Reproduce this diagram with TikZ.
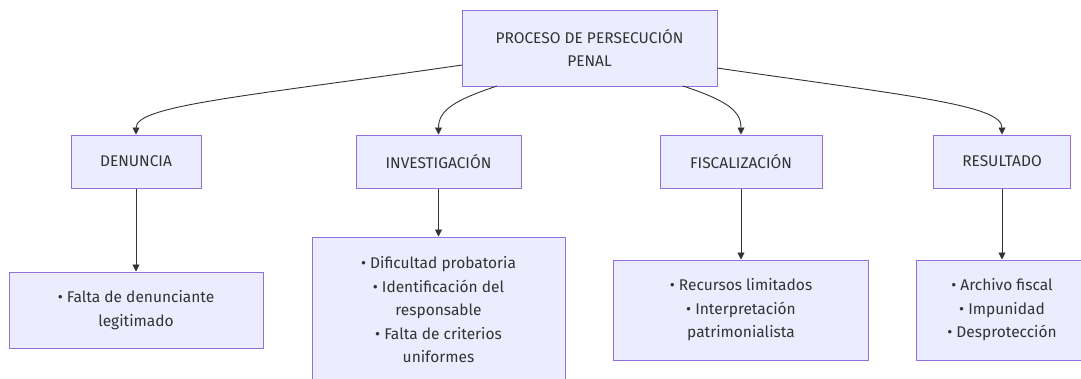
\documentclass[tikz,border=0pt]{standalone}
\usepackage{fontspec}
\setmainfont{Fira Sans}
\usetikzlibrary{arrows.meta}
\definecolor{boxfill}{HTML}{ECECFF}
\definecolor{boxline}{HTML}{9370DB}
\definecolor{ink}{HTML}{333333}
\tikzset{
  box/.style={draw=boxline, fill=boxfill, line width=1pt, text=ink, align=center,
    inner sep=0pt, font=\fontsize{15.5}{23.5}\selectfont},
  edge/.style={draw=ink, line width=0.9pt, -{Triangle[length=7pt,width=7pt]}},
}
\begin{document}
\begin{tikzpicture}[x=1pt,y=-1pt]
\useasboundingbox[fill=white] (0,0) rectangle (1081,378);
\clip (0,0) rectangle (1081,378);
\node[box, minimum width=255pt, minimum height=76pt] (top) at (589.5,48) {PROCESO DE PERSECUCIÓN\\PENAL};
\node[box, minimum width=130pt, minimum height=53pt] (den) at (136,161.5) {DENUNCIA};
\node[box, minimum width=165pt, minimum height=53pt] (inv) at (438.5,161.5) {INVESTIGACIÓN};
\node[box, minimum width=162pt, minimum height=53pt] (fis) at (741,161.5) {FISCALIZACIÓN};
\node[box, minimum width=137pt, minimum height=53pt] (res) at (1002,161.5) {RESULTADO};
\node[box, minimum width=254pt, minimum height=76pt] (d1) at (136,310) {• Falta de denunciante\\legitimado};
\node[box, minimum width=253pt, minimum height=146pt] (i1) at (438.5,310) {• Dificultad probatoria\\• Identificación del\\responsable\\• Falta de criterios\\uniformes};
\node[box, minimum width=255pt, minimum height=100pt] (f1) at (741,310) {• Recursos limitados\\• Interpretación\\patrimonialista};
\node[box, minimum width=172pt, minimum height=100pt] (r1) at (1002,310) {• Archivo fiscal\\• Impunidad\\• Desprotección};
\coordinate (tl) at (462,65);
\coordinate (tbl) at (497,86);
\coordinate (tbr) at (683,86);
\coordinate (tr) at (717,68);
\draw[edge] (tl) .. controls (250,96) and (136,105) .. (den.north);
\draw[edge] (tbl) .. controls (455,100) and (438.5,110) .. (inv.north);
\draw[edge] (tbr) .. controls (725,100) and (741,110) .. (fis.north);
\draw[edge] (tr) .. controls (910,96) and (1002,105) .. (res.north);
\draw[edge] (den) -- (d1);
\draw[edge] (inv) -- (i1);
\draw[edge] (fis) -- (f1);
\draw[edge] (res) -- (r1);
\end{tikzpicture}
\end{document}
